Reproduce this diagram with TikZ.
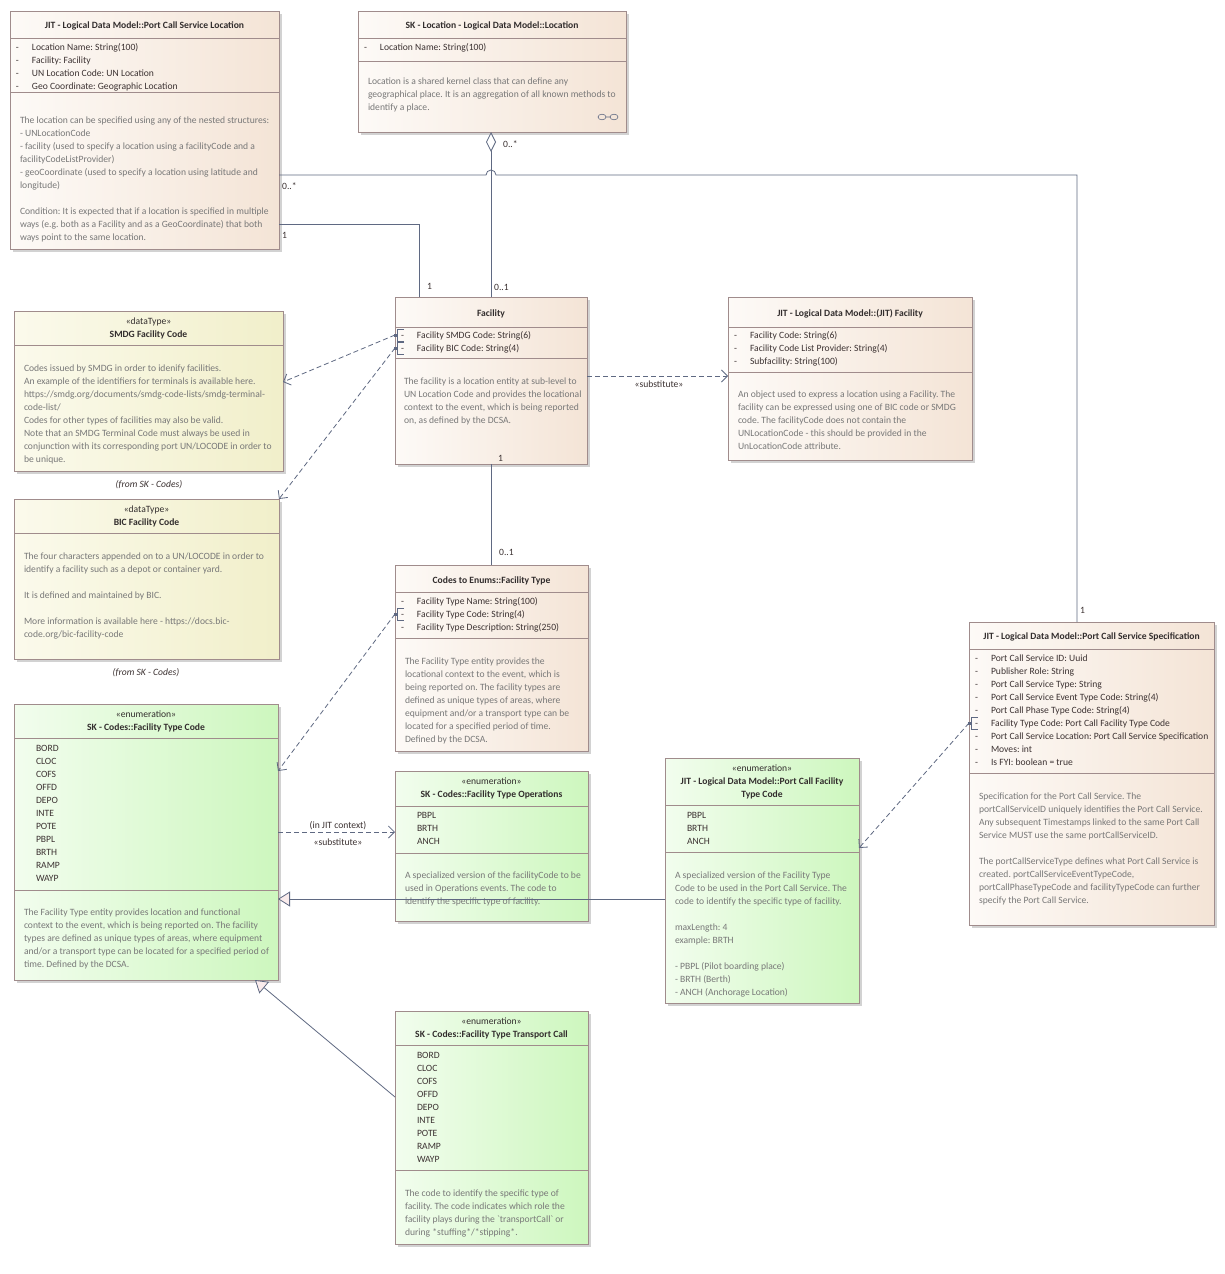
\documentclass[tikz,border=0pt]{standalone}
\usepackage{fontspec}
\setmainfont{Carlito}
\frenchspacing
\usetikzlibrary{arrows.meta,shadows,calc}
\definecolor{bdr}{RGB}{160,140,140}
\definecolor{lnc}{RGB}{95,105,130}
\definecolor{pl}{RGB}{253,250,247}
\definecolor{pr}{RGB}{244,228,214}
\definecolor{yl}{RGB}{251,250,236}
\definecolor{yr}{RGB}{241,239,202}
\definecolor{gl}{RGB}{242,253,238}
\definecolor{gr}{RGB}{205,247,190}
\definecolor{atc}{RGB}{60,50,50}
\definecolor{ntc}{RGB}{120,120,120}
\definecolor{ttc}{RGB}{50,45,45}
\definecolor{trif}{RGB}{250,236,236}
\newcommand\fs{\rule{0pt}{9pt}}
\newcommand\dl{\makebox[16pt][l]{-}}
\newcommand\am[2]{%
  \fill[lnc] (#1-1.5,#2-1.5) rectangle (#1+1.5,#2+1.5);
  \draw[lnc,line width=0.6pt] (#1+9,#2-6) -- (#1+2,#2-6) -- (#1+2,#2+6) -- (#1+9,#2+6);}
\tikzset{
  box/.style={draw=bdr, line width=0.8pt, anchor=north west, inner sep=0pt, outer sep=0pt,
    drop shadow={shadow xshift=2.5pt, shadow yshift=-2.5pt, fill=black!35, opacity=0.5}},
  peach/.style={box, left color=pl, right color=pr},
  yell/.style={box, left color=yl, right color=yr},
  grn/.style={box, left color=gl, right color=gr},
  sep/.style={draw=bdr, line width=0.8pt},
  txt/.style={inner sep=0pt, outer sep=0pt, anchor=north west, align=left, font=\fontsize{9.6}{13}\selectfont},
  att/.style={txt, text=atc},
  note/.style={txt, text=ntc},
  ttl/.style={inner sep=0pt, anchor=base, font=\fontsize{9.6}{13}\selectfont\bfseries, text=ttc},
  ster/.style={inner sep=0pt, anchor=base, font=\fontsize{9.6}{13}\selectfont, text=ttc},
  frm/.style={inner sep=0pt, anchor=base, font=\fontsize{9.6}{13}\selectfont\itshape, text=atc},
  mult/.style={inner sep=0pt, anchor=base west, font=\fontsize{9.6}{13}\selectfont, text=atc},
  lbl/.style={inner sep=0pt, anchor=base, font=\fontsize{9.6}{13}\selectfont, text=atc},
  conn/.style={draw=lnc, line width=0.8pt},
  dep/.style={conn, dash pattern=on 5pt off 3pt, -{Straight Barb[length=6pt,width=12pt]}},
  gen/.style={conn, -{Triangle[open,length=12pt,width=15pt,fill=trif]}},
}
\begin{document}
\begin{tikzpicture}[x=1pt,y=-1pt]
\useasboundingbox (0,0) rectangle (1224,1274);
\fill[white] (0,0) rectangle (1224,1274);

% ---------- Port Call Service Location
\node[peach, minimum width=269pt, minimum height=238pt] (pcsl) at (10,11) {};
\draw[sep] (pcsl.west |- 0,38) -- (pcsl.east |- 0,38);
\draw[sep] (pcsl.west |- 0,92) -- (pcsl.east |- 0,92);
\node[ttl] (pcsl-t) at (144.5,28.5) {JIT - Logical Data Model::Port Call Service Location};
\node[att] (pcsl-a) at (16,41.5) {\fs\dl Location Name: String(100)\\\dl Facility: Facility\\\dl UN Location Code: UN Location\\\dl Geo Coordinate: Geographic Location};
\node[note] (pcsl-n) at (20,114.5) {\fs The location can be specified using any of the nested structures:\\- UNLocationCode\\- facility (used to specify a location using a facilityCode and a\\facilityCodeListProvider)\\- geoCoordinate (used to specify a location using latitude and\\longitude)\\[13pt]Condition: It is expected that if a location is specified in multiple\\ways (e.g. both as a Facility and as a GeoCoordinate) that both\\ways point to the same location.};

% ---------- Location
\node[peach, minimum width=268pt, minimum height=121pt] (loc) at (358,11) {};
\draw[sep] (loc.west |- 0,38) -- (loc.east |- 0,38);
\draw[sep] (loc.west |- 0,61) -- (loc.east |- 0,61);
\node[ttl] (loc-t) at (492,28.5) {SK - Location - Logical Data Model::Location};
\node[att] (loc-a) at (364,41.5) {\fs\dl Location Name: String(100)};
\node[note] (loc-n) at (368,75.5) {\fs Location is a shared kernel class that can define any\\geographical place. It is an aggregation of all known methods to\\identify a place.};
\draw[lnc, line width=0.6pt] (602,117) ellipse [x radius=4, y radius=2.8] (606,117) -- (610,117) (614,117) ellipse [x radius=4, y radius=2.8];

% ---------- Facility
\node[peach, minimum width=192pt, minimum height=167pt] (fac) at (395,297) {};
\draw[sep] (fac.west |- 0,327) -- (fac.east |- 0,327);
\draw[sep] (fac.west |- 0,358) -- (fac.east |- 0,358);
\node[ttl] (fac-t) at (491,316.5) {Facility};
\node[att] (fac-a) at (401,329.5) {\fs\dl Facility SMDG Code: String(6)\\\dl Facility BIC Code: String(4)};
\node[note] (fac-n) at (404,375.5) {\fs The facility is a location entity at sub-level to\\UN Location Code and provides the locational\\context to the event, which is being reported\\on, as defined by the DCSA.};

% ---------- JIT Facility
\node[peach, minimum width=244pt, minimum height=163pt] (jfac) at (728,297) {};
\draw[sep] (jfac.west |- 0,327) -- (jfac.east |- 0,327);
\draw[sep] (jfac.west |- 0,372) -- (jfac.east |- 0,372);
\node[ttl] (jfac-t) at (850,316.5) {JIT - Logical Data Model::(JIT) Facility};
\node[att] (jfac-a) at (734,329.5) {\fs\dl Facility Code: String(6)\\\dl Facility Code List Provider: String(4)\\\dl Subfacility: String(100)};
\node[note] (jfac-n) at (738,388.5) {\fs An object used to express a location using a Facility. The\\facility can be expressed using one of BIC code or SMDG\\code. The facilityCode does not contain the\\UNLocationCode - this should be provided in the\\UnLocationCode attribute.};

% ---------- SMDG Facility Code
\node[yell, minimum width=269pt, minimum height=160pt] (smdg) at (14,311) {};
\draw[sep] (smdg.west |- 0,345) -- (smdg.east |- 0,345);
\node[ster] (smdg-s) at (148.5,324.5) {«dataType»};
\node[ttl] (smdg-t) at (148.5,337.5) {SMDG Facility Code};
\node[note] (smdg-n) at (24,362.5) {\fs Codes issued by SMDG in order to idenify facilities.\\An example of the identifiers for terminals is available here.\\https://smdg.org/documents/smdg-code-lists/smdg-terminal-\\code-list/\\Codes for other types of facilities may also be valid.\\Note that an SMDG Terminal Code must always be used in\\conjunction with its corresponding port UN/LOCODE in order to\\be unique.};
\node[frm] (smdg-f) at (149,487.5) {(from SK - Codes)};

% ---------- BIC Facility Code
\node[yell, minimum width=265pt, minimum height=160pt] (bic) at (14,499) {};
\draw[sep] (bic.west |- 0,533) -- (bic.east |- 0,533);
\node[ster] (bic-s) at (146.5,512.5) {«dataType»};
\node[ttl] (bic-t) at (146.5,525.5) {BIC Facility Code};
\node[note] (bic-n) at (24,550.5) {\fs The four characters appended on to a UN/LOCODE in order to\\identify a facility such as a depot or container yard.\\[13pt]It is defined and maintained by BIC.\\[13pt]More information is available here - https://docs.bic-\\code.org/bic-facility-code};
\node[frm] (bic-f) at (146,675.5) {(from SK - Codes)};

% ---------- Facility Type
\node[peach, minimum width=193pt, minimum height=186pt] (ft) at (395,565) {};
\draw[sep] (ft.west |- 0,592) -- (ft.east |- 0,592);
\draw[sep] (ft.west |- 0,638) -- (ft.east |- 0,638);
\node[ttl] (ft-t) at (491.5,583.5) {Codes to Enums::Facility Type};
\node[att] (ft-a) at (401,595.5) {\fs\dl Facility Type Name: String(100)\\\dl Facility Type Code: String(4)\\\dl Facility Type Description: String(250)};
\node[note] (ft-n) at (405,655.5) {\fs The Facility Type entity provides the\\locational context to the event, which is\\being reported on. The facility types are\\defined as unique types of areas, where\\equipment and/or a transport type can be\\located for a specified period of time.\\Defined by the DCSA.};

% ---------- SK Facility Type Code
\node[grn, minimum width=264pt, minimum height=276pt] (skftc) at (14,704) {};
\draw[sep] (skftc.west |- 0,738) -- (skftc.east |- 0,738);
\draw[sep] (skftc.west |- 0,890) -- (skftc.east |- 0,890);
\node[ster] (skftc-s) at (146,717.5) {«enumeration»};
\node[ttl] (skftc-t) at (146,730.5) {SK - Codes::Facility Type Code};
\node[att] (skftc-a) at (36,742.5) {\fs BORD\\CLOC\\COFS\\OFFD\\DEPO\\INTE\\POTE\\PBPL\\BRTH\\RAMP\\WAYP};
\node[note] (skftc-n) at (24,906.5) {\fs The Facility Type entity provides location and functional\\context to the event, which is being reported on. The facility\\types are defined as unique types of areas, where equipment\\and/or a transport type can be located for a specified period of\\time. Defined by the DCSA.};

% ---------- Facility Type Operations
\node[grn, minimum width=193pt, minimum height=150pt] (fto) at (395,771) {};
\draw[sep] (fto.west |- 0,806) -- (fto.east |- 0,806);
\draw[sep] (fto.west |- 0,853) -- (fto.east |- 0,853);
\node[ster] (fto-s) at (491.5,784.5) {«enumeration»};
\node[ttl] (fto-t) at (491.5,797.5) {SK - Codes::Facility Type Operations};
\node[att] (fto-a) at (417,809.5) {\fs PBPL\\BRTH\\ANCH};
\node[note] (fto-n) at (405,869.5) {\fs A specialized version of the facilityCode to be\\used in Operations events. The code to\\identify the specific type of facility.};

% ---------- Port Call Facility Type Code
\node[grn, minimum width=194pt, minimum height=245pt] (pcftc) at (665,758) {};
\draw[sep] (pcftc.west |- 0,805) -- (pcftc.east |- 0,805);
\draw[sep] (pcftc.west |- 0,852) -- (pcftc.east |- 0,852);
\node[ster] (pcftc-s) at (762,771.5) {«enumeration»};
\node[ttl] (pcftc-t1) at (762,784.5) {JIT - Logical Data Model::Port Call Facility};
\node[ttl] (pcftc-t2) at (762,797.5) {Type Code};
\node[att] (pcftc-a) at (687,809.5) {\fs PBPL\\BRTH\\ANCH};
\node[note] (pcftc-n) at (675,869.5) {\fs A specialized version of the Facility Type\\Code to be used in the Port Call Service. The\\code to identify the specific type of facility.\\[13pt]maxLength: 4\\example: BRTH\\[13pt]- PBPL (Pilot boarding place)\\- BRTH (Berth)\\- ANCH (Anchorage Location)};

% ---------- Facility Type Transport Call
\node[grn, minimum width=193pt, minimum height=233pt] (tc) at (395,1011) {};
\draw[sep] (tc.west |- 0,1045) -- (tc.east |- 0,1045);
\draw[sep] (tc.west |- 0,1170) -- (tc.east |- 0,1170);
\node[ster] (tc-s) at (491.5,1024.5) {«enumeration»};
\node[ttl] (tc-t) at (491.5,1037.5) {SK - Codes::Facility Type Transport Call};
\node[att] (tc-a) at (417,1049.5) {\fs BORD\\CLOC\\COFS\\OFFD\\DEPO\\INTE\\POTE\\RAMP\\WAYP};
\node[note] (tc-n) at (405,1187.5) {\fs The code to identify the specific type of\\facility. The code indicates which role the\\facility plays during the \textasciigrave transportCall\textasciigrave{} or\\during *stuffing*/*stipping*.};

% ---------- Port Call Service Specification
\node[peach, minimum width=245pt, minimum height=303pt] (pcss) at (969,622) {};
\draw[sep] (pcss.west |- 0,649) -- (pcss.east |- 0,649);
\draw[sep] (pcss.west |- 0,773) -- (pcss.east |- 0,773);
\node[ttl] (pcss-t) at (1091.5,639.5) {JIT - Logical Data Model::Port Call Service Specification};
\node[att] (pcss-a) at (975,652.5) {\fs\dl Port Call Service ID: Uuid\\\dl Publisher Role: String\\\dl Port Call Service Type: String\\\dl Port Call Service Event Type Code: String(4)\\\dl Port Call Phase Type Code: String(4)\\\dl Facility Type Code: Port Call Facility Type Code\\\dl Port Call Service Location: Port Call Service Specification\\\dl Moves: int\\\dl Is FYI: boolean = true};
\node[note] (pcss-n) at (979,790.5) {\fs Specification for the Port Call Service. The\\portCallServiceID uniquely identifies the Port Call Service.\\Any subsequent Timestamps linked to the same Port Call\\Service MUST use the same portCallServiceID.\\[13pt]The portCallServiceType defines what Port Call Service is\\created. portCallServiceEventTypeCode,\\portCallPhaseTypeCode and facilityTypeCode can further\\specify the Port Call Service.};

% ---------- attribute markers
\am{395}{335}
\am{395}{348}
\am{395}{614}
\am{969}{723}

% ---------- connectors
\draw[conn] (pcsl.east |- 0,175) -- (486,175) arc[start angle=180, end angle=360, radius=5] -| (pcss.north -| 1077,0);
\draw[conn] (pcsl.east |- 0,224) -| (fac.north -| 419,0);
\draw[conn, {Diamond[open,length=20pt,width=10pt,fill=white]}-] (fac.north |- loc.south) -- (fac.north);
\draw[conn] (fac.south) -- (fac.south |- ft.north);
\draw[dep] (fac.west |- 0,335) -- (smdg.east |- 0,382);
\draw[dep] (fac.west |- 0,348) -- (bic.north east);
\draw[dep] (fac.east |- 0,376) -- (jfac.west |- 0,376);
\draw[dep] (ft.west |- 0,614) -- (skftc.east |- 0,771);
\draw[dep] (skftc.east |- 0,832) -- (fto.west |- 0,832);
\draw[dep] (pcss.west |- 0,723) -- (pcftc.east |- 0,848);
\draw[gen] (pcftc.west |- 0,899) -- (skftc.east |- 0,899);
\draw[gen] (tc.west |- 0,1097) -- (skftc.south -| 255,0);

% ---------- labels
\node[mult] (m1) at (282,189.5) {0..*};
\node[mult] (m2) at (282,238.5) {1};
\node[mult] (m3) at (427,289.5) {1};
\node[mult] (m4) at (494,290.5) {0..1};
\node[mult] (m5) at (503,147.5) {0..*};
\node[mult] (m6) at (498,461.5) {1};
\node[mult] (m7) at (499,555.5) {0..1};
\node[mult] (m8) at (1080,613.5) {1};
\node[lbl] (l1) at (659,387.5) {«substitute»};
\node[lbl] (l2) at (338,828.5) {(in JIT context)};
\node[lbl] (l3) at (338,845.5) {«substitute»};
\end{tikzpicture}
\end{document}
